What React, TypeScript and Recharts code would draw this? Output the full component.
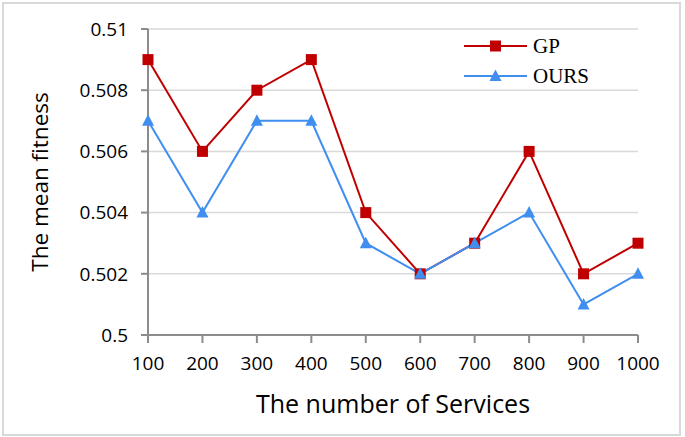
import React from "react";
import { LineChart, Line, XAxis, YAxis, CartesianGrid, Label } from "recharts";

const categories = ["100", "200", "300", "400", "500", "600", "700", "800", "900", "1000"];
const gpValues = [0.509, 0.506, 0.508, 0.509, 0.504, 0.502, 0.503, 0.506, 0.502, 0.503];
const oursValues = [0.507, 0.504, 0.507, 0.507, 0.503, 0.502, 0.503, 0.504, 0.501, 0.502];
const yTicks = [0.5, 0.502, 0.504, 0.506, 0.508, 0.51];
const yTickLabels = ["0.5", "0.502", "0.504", "0.506", "0.508", "0.51"];
const seriesNames = ["GP", "OURS"];

const RED = "#c00000";
const BLUE = "#3f8ef0";
const FONT = "'Open Sans', sans-serif";

const data = categories.map((c, i) => ({ name: c, GP: gpValues[i], OURS: oursValues[i] }));

const Square = (props: any) => {
  const { cx, cy } = props;
  if (cx == null || cy == null) return null;
  return <rect x={cx - 5.5} y={cy - 5.5} width={11} height={11} fill={RED} />;
};

const Triangle = (props: any) => {
  const { cx, cy } = props;
  if (cx == null || cy == null) return null;
  return <polygon points={`${cx},${cy - 6.5} ${cx + 6},${cy + 5} ${cx - 6},${cy + 5}`} fill={BLUE} />;
};

const LegendBox = () => (
  <svg width={160} height={70} style={{ position: "absolute", left: 460, top: 30 }}>
    <line x1={4} y1={16} x2={67} y2={16} stroke={RED} strokeWidth={2} />
    <rect x={30} y={10.5} width={11} height={11} fill={RED} />
    <text x={73} y={23} fontFamily="'Liberation Serif', serif" fontSize={21} fill="#000">{seriesNames[0]}</text>
    <line x1={4} y1={46} x2={67} y2={46} stroke={BLUE} strokeWidth={2} />
    <polygon points="35.5,39.5 41.5,51 29.5,51" fill={BLUE} />
    <text x={73} y={53} fontFamily="'Liberation Serif', serif" fontSize={21} fill="#000">{seriesNames[1]}</text>
  </svg>
);

export default function App() {
  return (
    <div style={{ position: "absolute", left: 0, top: 0, width: 685, height: 437, background: "#fff" }}>
      <div
        style={{
          position: "absolute",
          left: 2,
          top: 2,
          width: 679,
          height: 434,
          border: "2px solid #d9d9d9",
          boxSizing: "border-box",
        }}
      />
      <LineChart width={685} height={437} data={data} margin={{ top: 29, right: 47, left: 0, bottom: 0 }}>
        <CartesianGrid horizontal vertical={false} stroke="#d9d9d9" strokeWidth={1.5} />
        <XAxis
          dataKey="name"
          height={102}
          tickSize={8}
          tickLine={{ stroke: "#8c8c8c", strokeWidth: 2 }}
          axisLine={{ stroke: "#8c8c8c", strokeWidth: 2 }}
          tick={{ fill: "#000", fontSize: 19, fontFamily: FONT }}
          tickMargin={14}
          interval={0}
        >
          <Label
            value="The number of Services"
            position="insideBottom"
            offset={24}
            style={{ fill: "#000", fontSize: 25, fontFamily: FONT }}
          />
        </XAxis>
        <YAxis
          width={148}
          domain={[0.5, 0.51]}
          ticks={yTicks}
          tickFormatter={(v: number, i: number) => yTickLabels[i]}
          tickSize={7}
          tickMargin={13}
          tickLine={{ stroke: "#8c8c8c", strokeWidth: 2 }}
          axisLine={{ stroke: "#8c8c8c", strokeWidth: 2 }}
          tick={{ fill: "#000", fontSize: 19, fontFamily: FONT }}
          interval={0}
        >
          <Label
            value="The mean fitness"
            angle={-90}
            position="insideLeft"
            offset={40}
            style={{ fill: "#000", fontSize: 22.5, fontFamily: FONT, textAnchor: "middle" }}
          />
        </YAxis>
        <Line
          type="linear"
          dataKey="GP"
          stroke={RED}
          strokeWidth={2}
          dot={<Square />}
          activeDot={false}
          isAnimationActive={false}
        />
        <Line
          type="linear"
          dataKey="OURS"
          stroke={BLUE}
          strokeWidth={2}
          dot={<Triangle />}
          activeDot={false}
          isAnimationActive={false}
        />
      </LineChart>
      <LegendBox />
    </div>
  );
}
